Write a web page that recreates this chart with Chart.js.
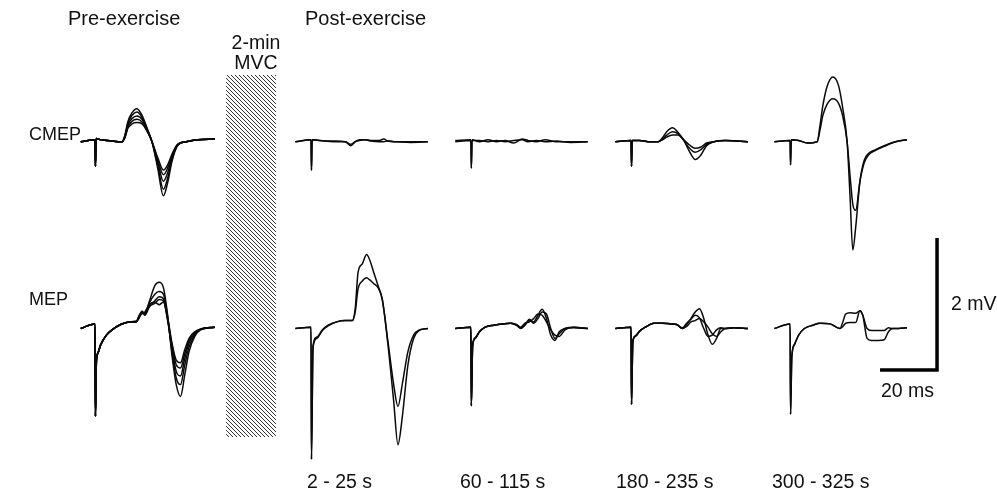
<!DOCTYPE html>
<html>
<head>
<meta charset="utf-8">
<script src="https://cdn.jsdelivr.net/npm/chart.js@4/dist/chart.umd.min.js"></script>
<style>
  html, body { margin: 0; padding: 0; background: #fff; }
  #wrap { position: relative; width: 997px; height: 493px; overflow: hidden; }
  #c { position: absolute; left: 0; top: 0; }
  .lbl { position: absolute; font-family: "Liberation Sans", Arial, sans-serif; font-size: 19.5px; line-height: 20px; color: #111; white-space: nowrap; }
  .big { font-size: 20px; }
  .side { font-size: 18px; }
  .ctr { transform: translateX(-50%); text-align: center; }
</style>
</head>
<body>
<div id="wrap">
  <canvas id="c" width="997" height="493"></canvas>
  <div class="lbl big" style="left:68px;top:8px">Pre-exercise</div>
  <div class="lbl big" style="left:305px;top:8px">Post-exercise</div>
  <div class="lbl ctr" style="left:256px;top:32px">2-min</div>
  <div class="lbl ctr" style="left:256px;top:52px">MVC</div>
  <div class="lbl side" style="left:29px;top:124px">CMEP</div>
  <div class="lbl side" style="left:29px;top:289px">MEP</div>
  <div class="lbl" style="left:951px;top:293px">2 mV</div>
  <div class="lbl" style="left:881px;top:380px">20 ms</div>
  <div id="bottom"></div>
</div>
<script>
// ---------- DATA (time in ms relative to stimulus, amplitude in mV) ----------
const panelLabels = ["Pre-exercise", "2 - 25 s", "60 - 115 s", "180 - 235 s", "300 - 325 s"];

// Pre-exercise CMEP
const tCmepPre = [-5, -0.1, 0, 0.15, 0.4, 2, 6, 9.5, 10.5, 11.5, 13, 14.7, 16.5, 18.5, 20, 22, 24, 25.5, 27, 29, 32, 36, 42];
const cmepPre = [
  [0, 0.03, 0.03, -0.37, 0.05, 0.03, 0.01, 0, 0.10, 0.30, 0.44, 0.50, 0.40, 0.18, 0.0, -0.40, -0.82, -0.62, -0.30, -0.06, 0.0, 0.03, 0.04],
  [0, 0.03, 0.03, -0.37, 0.05, 0.03, 0.01, 0, 0.09, 0.27, 0.40, 0.45, 0.37, 0.17, 0.0, -0.36, -0.72, -0.55, -0.27, -0.05, 0.0, 0.03, 0.04],
  [0, 0.03, 0.03, -0.37, 0.05, 0.03, 0.01, 0, 0.08, 0.25, 0.35, 0.39, 0.34, 0.16, 0.0, -0.31, -0.60, -0.47, -0.24, -0.05, 0.0, 0.03, 0.04],
  [0, 0.03, 0.03, -0.37, 0.05, 0.03, 0.01, 0, 0.07, 0.22, 0.31, 0.34, 0.30, 0.15, 0.0, -0.27, -0.50, -0.40, -0.21, -0.04, 0.0, 0.03, 0.04],
  [0, 0.03, 0.03, -0.37, 0.05, 0.03, 0.01, 0, 0.06, 0.20, 0.27, 0.29, 0.27, 0.14, 0.0, -0.24, -0.43, -0.35, -0.19, -0.04, 0.0, 0.03, 0.04]
];
// Pre-exercise MEP
const tMepPre = [-5, -0.1, 0, 0.15, 0.5, 1, 2, 4, 6, 9, 12, 14.5, 15.5, 16.5, 17.5, 19, 21, 22.5, 24, 25.5, 27, 28.5, 30, 31.5, 33, 35, 37, 42];
const mepPre = [
  [0, 0.07, 0.07, -1.33, -0.50, -0.38, -0.25, -0.10, -0.02, 0.06, 0.10, 0.10, 0.18, 0.26, 0.22, 0.40, 0.65, 0.70, 0.62, 0.20, -0.40, -0.85, -1.03, -0.70, -0.35, -0.12, -0.02, 0.02],
  [0, 0.07, 0.07, -1.33, -0.50, -0.38, -0.25, -0.10, -0.02, 0.06, 0.10, 0.10, 0.20, 0.25, 0.20, 0.32, 0.42, 0.48, 0.45, 0.15, -0.35, -0.75, -0.85, -0.55, -0.28, -0.10, -0.02, 0.02],
  [0, 0.07, 0.07, -1.33, -0.48, -0.37, -0.24, -0.10, -0.02, 0.06, 0.10, 0.11, 0.16, 0.24, 0.24, 0.34, 0.38, 0.44, 0.42, 0.12, -0.30, -0.65, -0.72, -0.45, -0.22, -0.08, -0.01, 0.02],
  [0, 0.07, 0.07, -1.33, -0.48, -0.37, -0.24, -0.10, -0.02, 0.06, 0.10, 0.11, 0.19, 0.22, 0.25, 0.36, 0.40, 0.36, 0.40, 0.14, -0.25, -0.55, -0.60, -0.38, -0.18, -0.06, -0.01, 0.02],
  [0, 0.07, 0.07, -1.33, -0.49, -0.38, -0.25, -0.10, -0.02, 0.06, 0.10, 0.10, 0.17, 0.26, 0.21, 0.38, 0.52, 0.56, 0.52, 0.17, -0.22, -0.48, -0.52, -0.32, -0.15, -0.05, -0.01, 0.02]
];
// 2 - 25 s
const t25Cmep = [-5.5, -0.1, 0, 0.15, 0.4, 3, 8, 12, 14, 15.5, 17, 19, 21, 24, 25.5, 27, 30, 35, 41];
const cmep25 = [
  [0, 0.03, 0.03, -0.43, 0.03, 0.02, 0.01, 0, -0.06, 0, 0.03, 0.03, 0.02, 0.02, 0.04, 0.01, 0, -0.01, 0],
  [0, 0.03, 0.03, -0.43, 0.03, 0.02, 0, 0, -0.04, 0, 0.02, 0.03, 0.01, 0, 0, 0.01, 0, 0, 0]
];
const t25Mep = [-5.5, -0.1, 0, 0.15, 0.7, 2, 4, 6, 9, 12, 14.5, 15.5, 16.5, 18, 19.5, 20.5, 22, 23.5, 25, 27, 29, 30.5, 32, 34, 36, 38, 41];
const mep25 = [
  [0, 0.02, 0.02, -1.98, -0.29, -0.15, -0.03, 0.04, 0.10, 0.12, 0.12, 0.30, 0.85, 0.98, 1.12, 1.05, 0.85, 0.65, 0.44, -0.25, -1.10, -1.76, -1.35, -0.55, -0.15, -0.03, 0.0],
  [0, 0.02, 0.02, -1.98, -0.26, -0.13, -0.02, 0.05, 0.10, 0.12, 0.12, 0.25, 0.60, 0.72, 0.77, 0.74, 0.68, 0.62, 0.44, -0.20, -0.85, -1.18, -0.85, -0.35, -0.10, -0.02, 0.0]
];
// 60 - 115 s
const t60Cmep = [-5.5, -0.1, 0, 0.15, 0.4, 3, 6, 9, 12, 15, 18, 20, 23, 26, 30, 35, 41];
const cmep60 = [
  [0.02, 0.03, 0.03, -0.40, 0.03, 0, 0.03, 0, 0.02, -0.02, 0.04, 0.02, 0, 0.03, 0, 0, 0],
  [0, 0.02, 0.02, -0.40, 0.02, 0.02, 0, 0.02, 0, 0.02, 0.03, 0, 0.02, 0, 0.01, -0.01, 0]
];
const t60Mep = [-5.5, -0.1, 0, 0.15, 0.6, 1.5, 3, 5, 8, 11, 14, 16, 17.5, 19, 20.5, 22, 23.5, 25, 26.5, 28, 29.5, 31, 33, 36, 41];
const mep60 = [
  [0, 0.02, 0.02, -1.17, -0.26, -0.15, -0.05, 0.02, 0.05, 0.07, 0.08, 0.05, 0.00, 0.06, 0.12, 0.10, 0.20, 0.29, 0.15, -0.10, -0.18, -0.05, 0.00, 0.02, 0.00],
  [0, 0.02, 0.02, -1.17, -0.25, -0.14, -0.05, 0.02, 0.05, 0.07, 0.08, 0.06, 0.02, 0.08, 0.10, 0.15, 0.22, 0.20, 0.10, -0.02, -0.10, -0.12, -0.02, 0.02, 0.00],
  [0, 0.02, 0.02, -1.17, -0.27, -0.15, -0.05, 0.02, 0.05, 0.07, 0.08, 0.05, 0.01, 0.05, 0.14, 0.08, 0.15, 0.25, 0.22, 0.00, -0.15, -0.08, 0.00, 0.01, 0.00]
];
// 180 - 235 s
const t180Cmep = [-5.5, -0.1, 0, 0.15, 0.4, 3, 6, 9.5, 11, 12.5, 14.5, 16.5, 18.5, 20.5, 22.5, 24.5, 26.5, 29, 33, 37, 41];
const cmep180 = [
  [0, 0.02, 0.02, -0.37, 0.02, 0.02, 0, 0, 0.06, 0.15, 0.21, 0.14, 0.02, -0.15, -0.27, -0.20, -0.06, 0, 0.02, 0.01, 0],
  [0, 0.02, 0.02, -0.37, 0.02, 0.02, 0, 0, 0.04, 0.10, 0.15, 0.12, 0.02, -0.10, -0.16, -0.12, -0.04, 0, 0.02, 0.01, 0],
  [0, 0.02, 0.02, -0.37, 0.02, 0.02, 0, 0, 0.03, 0.07, 0.10, 0.10, 0.03, -0.05, -0.10, -0.08, -0.02, 0, 0.02, 0.01, 0]
];
const t180Mep = [-5.5, -0.1, 0, 0.15, 0.6, 1.5, 3, 5, 8, 11, 14, 16, 18, 19.5, 21, 22.5, 24, 25.5, 27, 28.5, 30, 31.5, 33, 36, 41];
const mep180 = [
  [0, 0.02, 0.02, -1.15, -0.20, -0.12, -0.04, 0.02, 0.08, 0.08, 0.07, 0.06, 0.00, 0.06, 0.15, 0.25, 0.30, 0.15, -0.10, -0.24, -0.15, 0.00, 0.00, 0.01, 0],
  [0, 0.02, 0.02, -1.15, -0.19, -0.11, -0.04, 0.02, 0.08, 0.08, 0.07, 0.06, 0.01, 0.08, 0.14, 0.20, 0.16, 0.00, -0.12, -0.10, -0.02, 0.01, 0.00, 0.01, 0],
  [0, 0.02, 0.02, -1.15, -0.21, -0.12, -0.04, 0.02, 0.08, 0.08, 0.07, 0.06, 0.00, 0.03, 0.10, 0.12, 0.15, 0.10, 0.02, -0.08, -0.12, -0.05, 0.00, 0.01, 0]
];
// 300 - 325 s
const t300Cmep = [-5.5, -0.1, 0, 0.15, 0.4, 3, 6, 9.5, 10.5, 11.5, 13, 15, 17, 18.5, 20, 21, 22, 23, 24.5, 26, 27.5, 30, 33, 37, 41];
const cmep300 = [
  [0, 0.02, 0.02, -0.35, 0.03, 0.02, -0.02, 0, 0.25, 0.55, 0.84, 0.98, 0.85, 0.50, 0.00, -0.80, -1.64, -1.30, -0.60, -0.28, -0.18, -0.12, -0.06, 0.00, 0.03],
  [0, 0.02, 0.02, -0.35, 0.03, 0.02, -0.02, 0, 0.18, 0.40, 0.57, 0.65, 0.58, 0.38, 0.00, -0.50, -0.95, -1.04, -0.60, -0.32, -0.20, -0.13, -0.07, 0.00, 0.03]
];
const t300Mep = [-5.5, -0.1, 0, 0.15, 0.6, 1.5, 3, 5, 8, 10.5, 14, 17.5, 18.5, 19.5, 21, 23, 24.5, 25.5, 27, 28.5, 31, 33, 34.5, 36, 38, 41];
const mep300 = [
  [0, 0.07, 0.07, -1.30, -0.44, -0.25, -0.10, 0.00, 0.05, 0.08, 0.07, 0.00, 0.10, 0.22, 0.24, 0.23, 0.27, 0.20, -0.15, -0.18, -0.18, -0.17, -0.05, 0.00, 0.00, 0.01],
  [0, 0.07, 0.07, -1.30, -0.42, -0.24, -0.10, 0.00, 0.05, 0.08, 0.07, 0.00, 0.03, 0.08, 0.09, 0.09, 0.27, 0.20, 0.00, -0.03, -0.03, -0.03, 0.01, 0.00, 0.00, 0.01]
];
// scale bar values
const scaleBarMs = 20;
const scaleBarMv = 2;

// ---------- LAYOUT ----------
const PX_PER_MS = 2.85, PX_PER_MV = 66, W = 997, H = 493;
const X_MIN = -95 / PX_PER_MS, X_MAX = X_MIN + W / PX_PER_MS;
const Y_MAX = 328.5 / PX_PER_MV, Y_MIN = Y_MAX - H / PX_PER_MV;
const panelStimMs = [0, 75.8, 131.9, 188.1, 243.9];   // horizontal placement of each panel
const cmepRowOffsetMv = 2.83;                          // vertical placement of CMEP row
const mvcBar = { x0: 46.0, x1: 63.5, yTop: 3.84, yBot: -1.644 };
const scaleBarOrigin = { x: 275.45, y: -0.629 };
const bottomLabelLeft = [307, 460, 616, 772];

const rows = [
  { t: [tCmepPre, t25Cmep, t60Cmep, t180Cmep, t300Cmep], v: [cmepPre, cmep25, cmep60, cmep180, cmep300], off: cmepRowOffsetMv },
  { t: [tMepPre, t25Mep, t60Mep, t180Mep, t300Mep], v: [mepPre, mep25, mep60, mep180, mep300], off: 0 }
];

// hatch pattern
const pc = document.createElement('canvas');
pc.width = 4; pc.height = 4;
const pctx = pc.getContext('2d');
pctx.strokeStyle = '#333';
pctx.lineWidth = 1.0;
[[-2, 2, 2, 6], [-1, -1, 5, 5], [2, -2, 6, 2]].forEach(([a, b, c, d]) => { pctx.beginPath(); pctx.moveTo(a, b); pctx.lineTo(c, d); pctx.stroke(); });
const hatch = pctx.createPattern(pc, 'repeat');

const datasets = [];
// MVC hatched bar (fill between two edges)
datasets.push({ data: [{ x: mvcBar.x0, y: mvcBar.yTop }, { x: mvcBar.x1, y: mvcBar.yTop }], showLine: true, fill: '+1', backgroundColor: hatch, borderColor: 'rgba(0,0,0,0)', borderWidth: 0, pointRadius: 0 });
datasets.push({ data: [{ x: mvcBar.x0, y: mvcBar.yBot }, { x: mvcBar.x1, y: mvcBar.yBot }], showLine: true, fill: false, borderColor: 'rgba(0,0,0,0)', borderWidth: 0, pointRadius: 0 });

rows.forEach(row => {
  row.v.forEach((traces, p) => {
    const times = row.t[p];
    traces.forEach(tr => {
      datasets.push({
        data: times.map((t, i) => ({ x: t + panelStimMs[p], y: tr[i] + row.off })),
        showLine: true, fill: false, borderColor: '#0a0a0a', borderWidth: 1.5,
        pointRadius: 0, cubicInterpolationMode: 'monotone'
      });
    });
  });
});

// scale bar
datasets.push({
  data: [
    { x: scaleBarOrigin.x, y: scaleBarOrigin.y },
    { x: scaleBarOrigin.x + scaleBarMs, y: scaleBarOrigin.y },
    { x: scaleBarOrigin.x + scaleBarMs, y: scaleBarOrigin.y + scaleBarMv }
  ],
  showLine: true, fill: false, borderColor: '#000', borderWidth: 3.5, pointRadius: 0,
  borderJoinStyle: 'miter', tension: 0
});

new Chart(document.getElementById('c'), {
  type: 'scatter',
  data: { datasets },
  options: {
    responsive: false, animation: false, devicePixelRatio: 1,
    layout: { padding: 0 },
    plugins: { legend: { display: false }, tooltip: { enabled: false }, title: { display: false } },
    scales: {
      x: { type: 'linear', min: X_MIN, max: X_MAX, display: false },
      y: { type: 'linear', min: Y_MIN, max: Y_MAX, display: false }
    },
    events: []
  }
});

// bottom time labels
const bottom = document.getElementById('bottom');
panelLabels.slice(1).forEach((txt, i) => {
  const d = document.createElement('div');
  d.className = 'lbl';
  d.style.left = bottomLabelLeft[i] + 'px';
  d.style.top = '471px';
  d.textContent = txt;
  bottom.appendChild(d);
});
</script>
</body>
</html>
